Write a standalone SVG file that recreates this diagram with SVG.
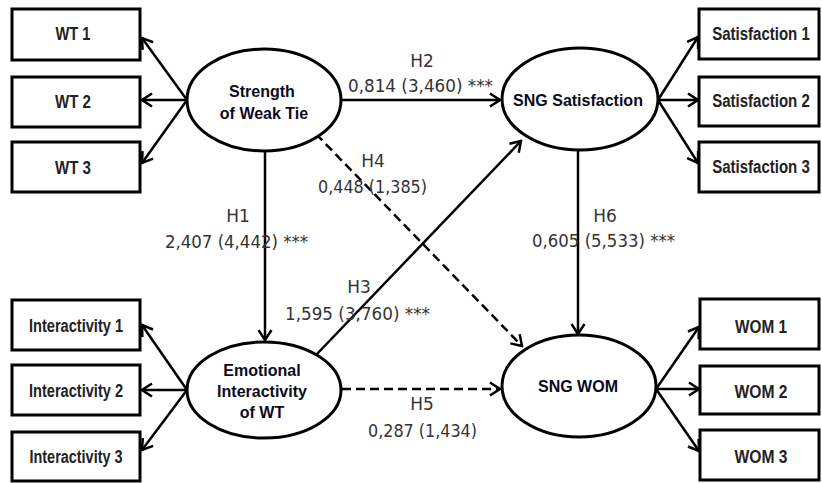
<svg xmlns="http://www.w3.org/2000/svg" width="822" height="483" viewBox="0 0 822 483">
<defs>
<marker id="ah" markerUnits="userSpaceOnUse" viewBox="-12 -8 14 16" refX="0" refY="0" markerWidth="14" markerHeight="16" orient="auto">
<path d="M-10,-6.5 L0,0 L-10,6.5" fill="none" stroke="#000" stroke-width="2.5" stroke-linejoin="miter"/>
</marker>
</defs>
<style>
.box{fill:#fff;stroke:#000;stroke-width:3}
.ell{fill:#fff;stroke:#000;stroke-width:3}
.bt{font-family:"Liberation Sans",Arial,sans-serif;font-weight:bold;font-size:19px;fill:#222;text-anchor:middle}
.nt{font-family:"Liberation Sans",Arial,sans-serif;font-weight:bold;font-size:16px;fill:#0a0a1e;text-anchor:middle}
.lt{font-family:"DejaVu Sans","Liberation Sans",sans-serif;font-size:17px;fill:#333}
.ln{stroke:#000;stroke-width:2.5;fill:none;marker-end:url(#ah)}
.dash{stroke-dasharray:9 5}
</style>
<rect width="822" height="483" fill="#fff"/>
<g id="connectors">
<line class="ln" x1="187" y1="100" x2="142" y2="38"/>
<line class="ln" x1="187" y1="100" x2="142" y2="100"/>
<line class="ln" x1="187" y1="100" x2="142" y2="163"/>
<line class="ln" x1="187" y1="390" x2="142" y2="325"/>
<line class="ln" x1="187" y1="390" x2="142" y2="390"/>
<line class="ln" x1="187" y1="390" x2="142" y2="450"/>
<line class="ln" x1="658" y1="100" x2="698" y2="37"/>
<line class="ln" x1="658" y1="100" x2="698" y2="100"/>
<line class="ln" x1="658" y1="100" x2="698" y2="163"/>
<line class="ln" x1="656" y1="389" x2="699" y2="327"/>
<line class="ln" x1="656" y1="389" x2="699" y2="389"/>
<line class="ln" x1="656" y1="389" x2="699" y2="451"/>
<line class="ln" x1="341" y1="100" x2="500" y2="100"/>
<line class="ln" x1="265" y1="151" x2="265" y2="340"/>
<line class="ln" x1="578" y1="150" x2="578" y2="334"/>
<line class="ln dash" x1="342" y1="389" x2="500" y2="389"/>
<line class="ln" x1="316" y1="355" x2="521" y2="141"/>
<line class="ln dash" x1="316" y1="134" x2="522" y2="346"/>
</g>
<g id="labels">
<text class="lt" x="422" y="67" text-anchor="middle">H2</text>
<text class="lt" x="348" y="92" textLength="145" lengthAdjust="spacingAndGlyphs">0,814 (3,460)  ***</text>
<text class="lt" x="373" y="167" text-anchor="middle">H4</text>
<text class="lt" x="318" y="193" textLength="109" lengthAdjust="spacingAndGlyphs">0,448 (1,385)</text>
<text class="lt" x="238" y="222" text-anchor="middle">H1</text>
<text class="lt" x="165" y="248" textLength="143" lengthAdjust="spacingAndGlyphs">2,407 (4,442)  ***</text>
<text class="lt" x="359" y="293" text-anchor="middle">H3</text>
<text class="lt" x="285" y="320" textLength="145" lengthAdjust="spacingAndGlyphs">1,595 (3,760)  ***</text>
<text class="lt" x="605" y="222" text-anchor="middle">H6</text>
<text class="lt" x="532" y="247" textLength="143" lengthAdjust="spacingAndGlyphs">0,605 (5,533)  ***</text>
<text class="lt" x="422" y="410" text-anchor="middle">H5</text>
<text class="lt" x="368" y="437" textLength="109" lengthAdjust="spacingAndGlyphs">0,287 (1,434)</text>
</g>
<g id="wt1"><rect class="box" x="12" y="9" width="128" height="51"/><text class="bt" x="73" y="40" textLength="35" lengthAdjust="spacingAndGlyphs">WT 1</text></g>
<g id="wt2"><rect class="box" x="12" y="77" width="128" height="50"/><text class="bt" x="73" y="108" textLength="36" lengthAdjust="spacingAndGlyphs">WT 2</text></g>
<g id="wt3"><rect class="box" x="12" y="142" width="128" height="50"/><text class="bt" x="73" y="174" textLength="36" lengthAdjust="spacingAndGlyphs">WT 3</text></g>
<g id="int1"><rect class="box" x="12" y="300" width="128" height="50"/><text class="bt" transform="translate(76,332) scale(0.77,1)">Interactivity 1</text></g>
<g id="int2"><rect class="box" x="12" y="365" width="128" height="50"/><text class="bt" transform="translate(76,397) scale(0.77,1)">Interactivity 2</text></g>
<g id="int3"><rect class="box" x="12" y="432" width="128" height="49"/><text class="bt" transform="translate(76,463) scale(0.76,1)">Interactivity 3</text></g>
<g id="sat1"><rect class="box" x="699" y="9" width="120" height="50"/><text class="bt" transform="translate(761,40) scale(0.79,1)">Satisfaction 1</text></g>
<g id="sat2"><rect class="box" x="699" y="77" width="120" height="49"/><text class="bt" transform="translate(761,107) scale(0.79,1)">Satisfaction 2</text></g>
<g id="sat3"><rect class="box" x="699" y="142" width="120" height="50"/><text class="bt" transform="translate(761,173) scale(0.79,1)">Satisfaction 3</text></g>
<g id="wom1"><rect class="box" x="700" y="299" width="119" height="50"/><text class="bt" x="761" y="333" textLength="52" lengthAdjust="spacingAndGlyphs">WOM 1</text></g>
<g id="wom2"><rect class="box" x="700" y="366" width="119" height="48"/><text class="bt" x="761" y="398" textLength="53" lengthAdjust="spacingAndGlyphs">WOM 2</text></g>
<g id="wom3"><rect class="box" x="700" y="430" width="119" height="50"/><text class="bt" x="761" y="463" textLength="53" lengthAdjust="spacingAndGlyphs">WOM 3</text></g>
<g id="strength"><ellipse class="ell" cx="264" cy="100" rx="77" ry="51"/><text class="nt" x="262" y="97">Strength</text><text class="nt" x="264" y="119">of Weak Tie</text></g>
<g id="sngsat"><ellipse class="ell" cx="580" cy="99" rx="78" ry="51"/><text class="nt" x="578" y="106">SNG Satisfaction</text></g>
<g id="emotional"><ellipse class="ell" cx="264" cy="390" rx="77" ry="48"/><text class="nt" x="262" y="376">Emotional</text><text class="nt" x="262" y="397">Interactivity</text><text class="nt" x="262" y="418">of WT</text></g>
<g id="sngwom"><ellipse class="ell" cx="579" cy="386" rx="77" ry="51"/><text class="nt" x="578" y="392">SNG WOM</text></g>
</svg>
